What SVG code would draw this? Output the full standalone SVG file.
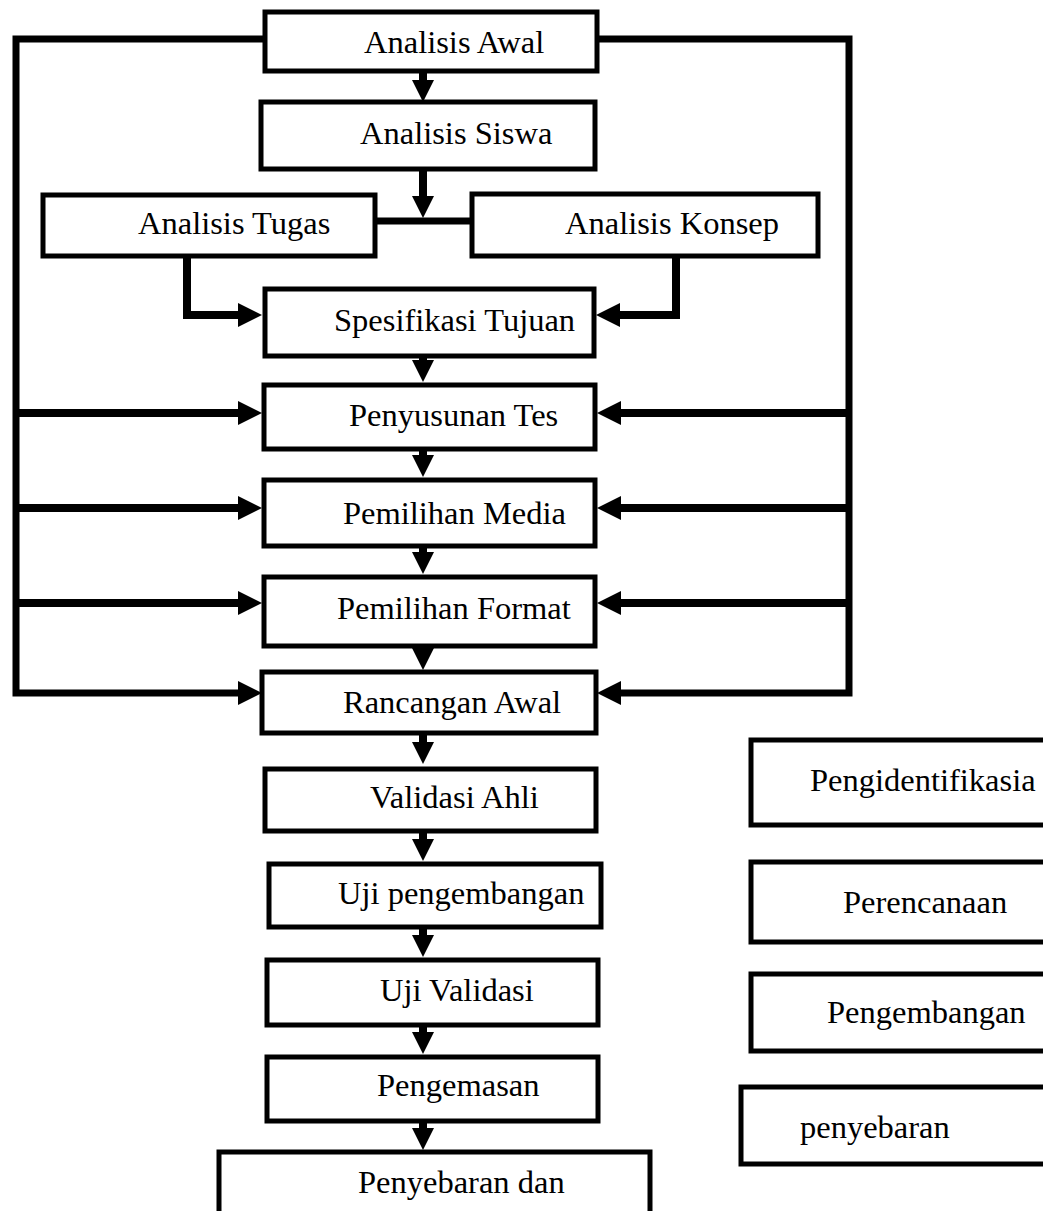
<svg xmlns="http://www.w3.org/2000/svg" width="1043" height="1211" viewBox="0 0 1043 1211">
<style>
.box{fill:#fff;stroke:#000;stroke-width:5}
.c{fill:none;stroke:#000;stroke-width:8}
.cv{fill:none;stroke:#000;stroke-width:7}
.t{font-family:"Liberation Serif","Times New Roman",serif;font-size:32.5px;fill:#000}
</style>
<defs>
<marker id="ah" markerUnits="userSpaceOnUse" markerWidth="24" markerHeight="24" refX="0" refY="12" orient="auto" viewBox="0 0 24 24">
<path d="M0,0 L24,12 L0,24 Z" fill="#000"/>
</marker>
<marker id="ad" markerUnits="userSpaceOnUse" markerWidth="22" markerHeight="22" refX="0" refY="11" orient="auto" viewBox="0 0 22 22">
<path d="M0,0 L22,11 L0,22 Z" fill="#000"/>
</marker>
</defs>
<rect width="1043" height="1211" fill="#fff"/>
<g id="connectors">
<path class="cv" d="M263,39 H16 V693 H238" marker-end="url(#ah)"/>
<path class="c" d="M16,413 H238" marker-end="url(#ah)"/>
<path class="c" d="M16,508 H238" marker-end="url(#ah)"/>
<path class="c" d="M16,603 H238" marker-end="url(#ah)"/>
<path class="cv" d="M598,39 H849 V693 H621" marker-end="url(#ah)"/>
<path class="c" d="M849,413 H621" marker-end="url(#ah)"/>
<path class="c" d="M849,508 H621" marker-end="url(#ah)"/>
<path class="c" d="M849,603 H621" marker-end="url(#ah)"/>
<path class="c" d="M187,258 V315 H238" marker-end="url(#ah)"/>
<path class="c" d="M676,258 V315 H620" marker-end="url(#ah)"/>
<path class="cv" d="M377,221 H471"/>
<path class="c" d="M423,72 V80" marker-end="url(#ad)"/>
<path class="c" d="M423,171 V196" marker-end="url(#ad)"/>
<path class="c" d="M423,357 V360" marker-end="url(#ad)"/>
<path class="c" d="M423,451 V455" marker-end="url(#ad)"/>
<path class="c" d="M423,548 V552" marker-end="url(#ad)"/>
<path class="c" d="M423,646 V648" marker-end="url(#ad)"/>
<path class="c" d="M423,735 V742" marker-end="url(#ad)"/>
<path class="c" d="M423,833 V839" marker-end="url(#ad)"/>
<path class="c" d="M423,929 V935" marker-end="url(#ad)"/>
<path class="c" d="M423,1027 V1032" marker-end="url(#ad)"/>
<path class="c" d="M423,1123 V1128" marker-end="url(#ad)"/>
</g>
<g id="n-analisis-awal"><rect class="box" x="265" y="12" width="332" height="59"/><text class="t" x="364" y="53">Analisis Awal</text></g>
<g id="n-analisis-siswa"><rect class="box" x="261" y="102" width="334" height="67"/><text class="t" x="360" y="144">Analisis Siswa</text></g>
<g id="n-analisis-tugas"><rect class="box" x="43" y="195" width="332" height="61"/><text class="t" x="138" y="234">Analisis Tugas</text></g>
<g id="n-analisis-konsep"><rect class="box" x="472" y="194" width="346" height="62"/><text class="t" x="565" y="234">Analisis Konsep</text></g>
<g id="n-spesifikasi"><rect class="box" x="265" y="289" width="329" height="67"/><text class="t" x="334" y="331">Spesifikasi Tujuan</text></g>
<g id="n-penyusunan"><rect class="box" x="264" y="385" width="331" height="64"/><text class="t" x="349" y="426">Penyusunan Tes</text></g>
<g id="n-media"><rect class="box" x="264" y="480" width="331" height="66"/><text class="t" x="343" y="524">Pemilihan Media</text></g>
<g id="n-format"><rect class="box" x="264" y="577" width="331" height="69"/><text class="t" x="337" y="619">Pemilihan Format</text></g>
<g id="n-rancangan"><rect class="box" x="262" y="672" width="334" height="61"/><text class="t" x="343" y="713">Rancangan Awal</text></g>
<g id="n-validasi-ahli"><rect class="box" x="265" y="769" width="331" height="62"/><text class="t" x="370" y="808">Validasi Ahli</text></g>
<g id="n-uji-pengembangan"><rect class="box" x="269" y="864" width="332" height="63"/><text class="t" x="338" y="904">Uji pengembangan</text></g>
<g id="n-uji-validasi"><rect class="box" x="267" y="960" width="331" height="65"/><text class="t" x="380" y="1001">Uji Validasi</text></g>
<g id="n-pengemasan"><rect class="box" x="267" y="1057" width="331" height="64"/><text class="t" x="377" y="1096">Pengemasan</text></g>
<g id="n-penyebaran-dan"><rect class="box" x="219" y="1152" width="431" height="80"/><text class="t" x="358" y="1193">Penyebaran dan</text></g>
<g id="n-pengidentifikasia"><rect class="box" x="751" y="740" width="300" height="85"/><text class="t" x="810" y="791">Pengidentifikasia</text></g>
<g id="n-perencanaan"><rect class="box" x="751" y="862" width="300" height="80"/><text class="t" x="843" y="913">Perencanaan</text></g>
<g id="n-pengembangan"><rect class="box" x="751" y="974" width="300" height="77"/><text class="t" x="827" y="1023">Pengembangan</text></g>
<g id="n-penyebaran"><rect class="box" x="741" y="1087" width="310" height="77"/><text class="t" x="800" y="1138">penyebaran</text></g>
</svg>
